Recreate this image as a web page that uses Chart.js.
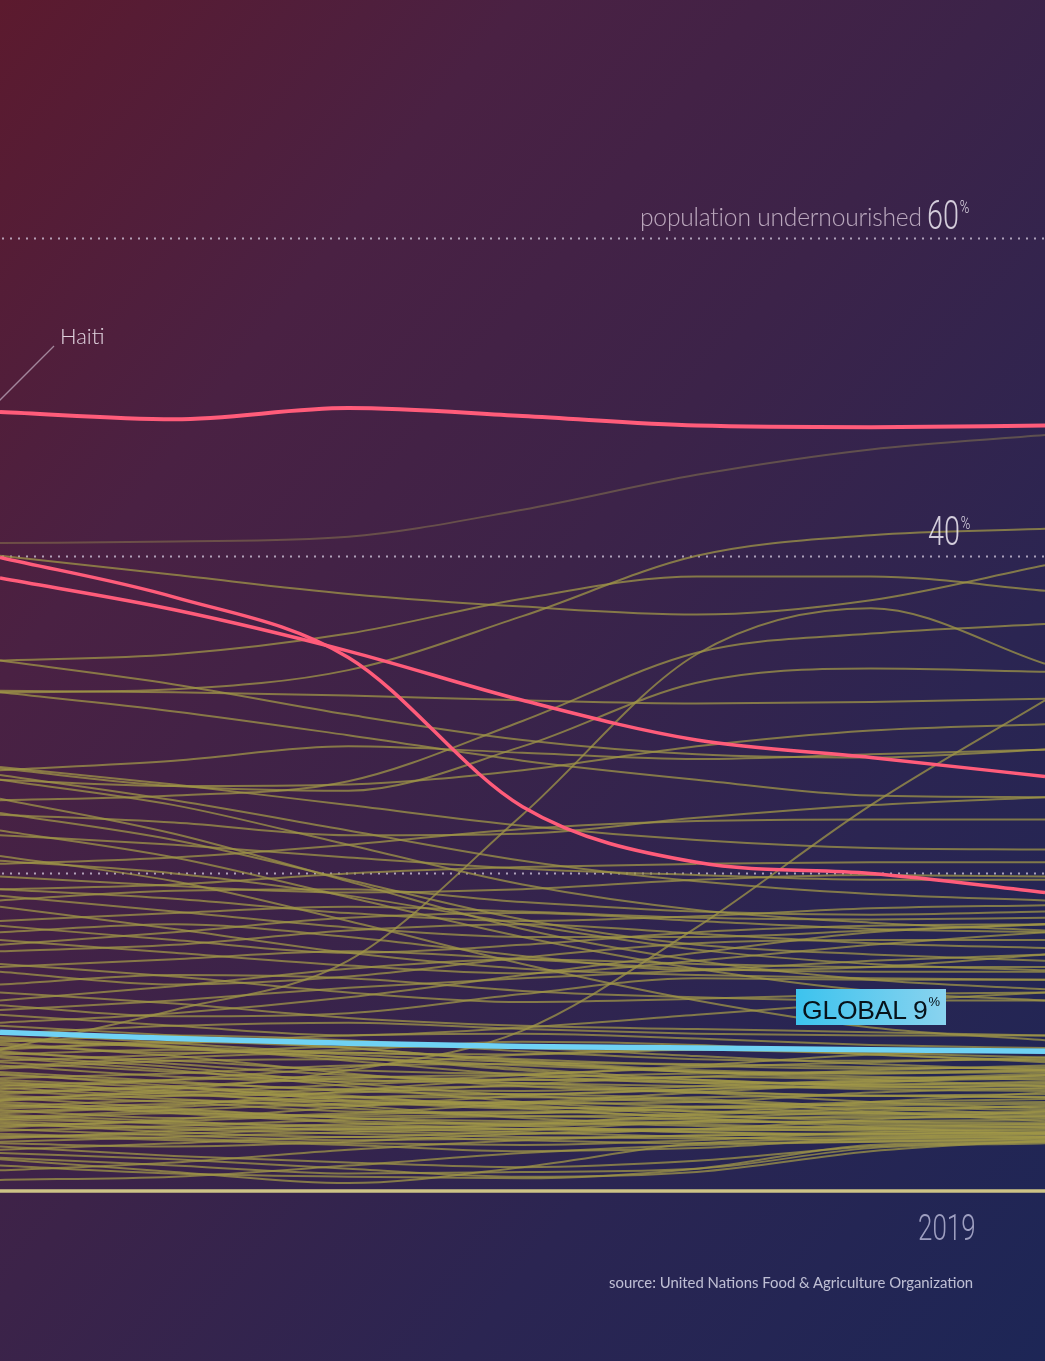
<!DOCTYPE html>
<html>
<head>
<meta charset="utf-8">
<script src="https://cdn.jsdelivr.net/npm/chart.js@4.4.1/dist/chart.umd.min.js"></script>
<style>
  html, body { margin:0; padding:0; }
  body {
    width:1045px; height:1361px; overflow:hidden; position:relative;
    background: linear-gradient(to bottom right, #5c1a2e 0%, #4a2143 25%, #3c2349 48%, #2b2552 72%, #1d2656 100%);
  }
  #wrap { position:absolute; left:0; top:0; width:1045px; height:1361px; }
  .lbl { position:absolute; white-space:nowrap; }
  .cond { font-family: "Roboto", "Liberation Sans Narrow", sans-serif; font-weight:300; transform-origin:left top; }
  #pop { left:640px; top:202px; font-family:"Lato","Open Sans",sans-serif; font-weight:300; font-size:24.6px; color:rgba(235,220,235,0.72); letter-spacing:-0.2px; }
  #p60 { left:927px; top:192px; font-size:40px; color:rgba(240,235,245,0.85); transform:scaleX(0.72); }
  #p40 { left:928px; top:508px; font-size:40px; color:rgba(240,235,245,0.85); transform:scaleX(0.72); }
  .pct { font-size:18px; position:relative; top:-16px; margin-left:1px; }
  #yr { left:918px; top:1207px; font-size:36px; color:rgba(190,190,220,0.8); transform:scaleX(0.72); }
  #src { left:609px; top:1273px; font-family:"Lato","Open Sans",sans-serif; font-size:14.9px; color:rgba(225,225,240,0.82); }
  #haiti { left:60px; top:322px; font-family:"Lato","Open Sans",sans-serif; font-weight:300; font-size:22px; color:rgba(240,230,240,0.9); }
  #glob { left:796px; top:989px; width:150px; height:36px; background:linear-gradient(90deg,#3cc3ee,#8ad3ef); overflow:hidden;
          font-family:"Liberation Sans","Arial",sans-serif; font-size:26.5px; color:#07121a; line-height:29px; padding-top:1px; text-indent:6px; box-sizing:border-box; letter-spacing:-0.2px; }
  #glob sup { font-size:13px; position:relative; top:-3px; letter-spacing:0; margin-left:1px; }
  #lead { position:absolute; left:0; top:0; }
</style>
</head>
<body>
<div id="wrap"><canvas id="c" width="1045" height="1361"></canvas></div>
<svg id="lead" width="1045" height="1361"><line x1="-2" y1="402" x2="54" y2="346" stroke="rgba(230,220,235,0.55)" stroke-width="1.3"/></svg>
<div class="lbl" id="pop">population undernourished</div>
<div class="lbl cond" id="p60">60<span class="pct">%</span></div>
<div class="lbl cond" id="p40">40<span class="pct">%</span></div>
<div class="lbl" id="haiti">Haiti</div>
<div class="lbl" id="glob">GLOBAL 9<sup>%</sup></div>
<div class="lbl cond" id="yr">2019</div>
<div class="lbl" id="src">source: United Nations Food &amp; Agriculture Organization</div>
<script>
// ---- data (percent of population undernourished) ----
const years = ['2001','2004','2007','2010','2013','2016','2019'];
const gridTicks = [20, 40, 60];

const haiti  = [49.05, 48.6, 49.3, 48.8, 48.2, 48.1, 48.2];
const redA   = [39.9, 37.4, 33.6, 24.2, 20.7, 20.0, 18.8];
const redB   = [38.6, 36.6, 34.0, 30.9, 28.4, 27.3, 26.1];
const globalSeries = [10.0, 9.6, 9.3, 9.1, 9.0, 8.9, 8.8];
const fadedCountry = [40.8, 40.9, 41.2, 42.9, 45.1, 46.7, 47.6];
const belowFloor = [0, 0, 0, 0, 0, 0, 0];

const upperCountries = [
  [31.4, 31.6, 32.8, 36.2, 40.0, 41.3, 41.7],
  [40.0, 38.8, 37.6, 36.8, 36.3, 37.2, 39.4],
  [33.4, 33.8, 35.1, 37.3, 38.7, 38.7, 37.8],
  [8.9, 11.4, 14.5, 23.7, 33.8, 36.7, 33.2],
  [5.7, 6.4, 7.6, 10.1, 16.6, 24.3, 30.9],
  [24.6, 24.9, 25.8, 29.6, 33.9, 35.1, 35.7],
  [26.6, 25.5, 25.2, 28.0, 32.0, 32.9, 32.7],
  [31.5, 31.4, 31.2, 30.9, 30.7, 30.8, 31.0],
  [31.4, 30.2, 28.7, 27.1, 25.9, 24.9, 24.8],
  [33.4, 31.9, 30.0, 28.4, 27.5, 27.3, 27.8],
  [26.5, 27.1, 28.0, 27.6, 27.2, 27.5, 27.8],
  [25.9, 25.5, 25.6, 26.5, 28.0, 29.0, 29.4],
  [26.7, 25.6, 24.3, 23.0, 22.1, 21.6, 21.5],
  [26.2, 24.6, 22.7, 20.8, 19.5, 18.7, 18.3],
  [25.9, 24.3, 21.8, 19.3, 17.7, 16.9, 16.4],
  [23.8, 22.1, 19.6, 17.1, 15.5, 14.9, 14.5],
  [24.7, 22.5, 19.5, 16.5, 14.5, 13.3, 12.7],
  [22.7, 21.0, 18.5, 16.0, 14.0, 12.6, 12.0],
  [21.1, 19.5, 17.0, 14.3, 12.0, 10.3, 9.5],
  [20.8, 20.0, 18.6, 16.8, 15.2, 14.3, 13.9],
  [22.4, 21.8, 21.0, 20.3, 19.9, 19.6, 19.6],
  [23.7, 23.2, 22.4, 22.5, 23.5, 24.3, 24.8],
  [20.6, 21.0, 21.8, 22.8, 23.3, 23.4, 23.4],
  [19.0, 19.3, 20.0, 20.4, 20.6, 20.7, 20.7],
  [19.8, 19.2, 18.8, 19.0, 19.6, 19.9, 19.8]
];

const middleCountries = [
  [19.0, 18.4, 17.5, 17.0, 17.3, 17.8, 18.0],
  [18.3, 18.9, 19.0, 18.2, 17.6, 17.4, 17.6],
  [17.9, 16.5, 15.0, 14.0, 13.6, 13.4, 13.3],
  [17.0, 17.5, 17.9, 17.6, 17.2, 17.1, 17.2],
  [16.7, 15.8, 15.0, 15.5, 16.3, 16.7, 16.8],
  [16.3, 16.8, 16.0, 14.8, 13.9, 14.1, 14.9],
  [15.8, 15.0, 14.2, 13.7, 14.5, 15.5, 16.3],
  [15.1, 15.5, 16.4, 16.8, 16.2, 15.6, 15.3],
  [14.3, 13.5, 12.5, 11.9, 12.1, 12.4, 12.5],
  [14.1, 14.6, 15.1, 14.6, 14.0, 13.8, 13.8],
  [13.8, 13.0, 13.5, 14.7, 15.6, 15.8, 15.8],
  [13.0, 13.6, 13.4, 12.6, 12.2, 12.0, 12.0],
  [12.5, 11.8, 10.9, 10.4, 10.2, 10.0, 9.8],
  [12.0, 12.9, 14.0, 14.6, 14.3, 14.1, 14.1],
  [11.7, 11.0, 11.2, 12.4, 13.4, 13.3, 13.3],
  [11.4, 12.0, 12.8, 13.4, 13.9, 14.5, 14.9],
  [11.1, 10.4, 9.8, 10.3, 11.1, 11.9, 12.5],
  [10.6, 11.2, 12.2, 13.6, 15.0, 16.3, 16.8],
  [15.5, 16.3, 17.2, 17.5, 17.0, 16.5, 16.3],
  [18.6, 17.6, 16.6, 16.0, 16.0, 16.4, 16.8]
];

const lowerCountries = [
  [9.6, 9.0, 8.4, 7.9, 7.5, 7.2, 7.0],
  [9.4, 9.8, 9.5, 8.8, 8.3, 8.2, 8.3],
  [9.2, 8.5, 7.4, 6.6, 6.2, 6.0, 5.9],
  [9.0, 9.3, 9.8, 9.9, 9.6, 9.2, 9.0],
  [8.8, 8.0, 7.3, 7.0, 7.2, 7.6, 7.9],
  [8.6, 8.9, 8.4, 7.6, 6.8, 6.4, 6.3],
  [8.4, 7.6, 6.6, 5.6, 5.0, 4.8, 4.9],
  [8.2, 8.6, 9.1, 9.0, 8.5, 8.0, 7.6],
  [7.9, 7.2, 6.9, 7.3, 7.8, 8.1, 8.4],
  [7.7, 8.2, 8.3, 7.7, 7.0, 6.7, 6.8],
  [7.4, 6.6, 5.7, 5.2, 5.3, 5.6, 5.8],
  [7.1, 7.4, 7.9, 8.0, 7.5, 7.1, 7.2],
  [6.9, 6.2, 5.4, 4.6, 4.2, 4.0, 4.1],
  [6.6, 7.0, 7.2, 6.8, 6.3, 6.0, 6.1],
  [6.3, 5.8, 5.4, 5.6, 6.2, 6.8, 7.3],
  [6.1, 6.5, 6.0, 5.2, 4.7, 4.6, 4.7],
  [5.9, 5.2, 4.6, 4.4, 4.6, 5.0, 5.4],
  [5.7, 6.0, 6.4, 6.6, 6.2, 5.6, 5.2],
  [5.5, 4.9, 4.3, 3.9, 3.8, 3.9, 4.0],
  [5.3, 5.7, 5.2, 4.7, 4.9, 5.6, 6.2],
  [5.1, 4.6, 4.9, 5.5, 5.9, 6.0, 5.9],
  [4.9, 5.3, 5.7, 5.4, 4.8, 4.4, 4.3],
  [4.7, 4.2, 3.8, 3.6, 3.9, 4.5, 5.0],
  [4.5, 4.9, 4.6, 4.1, 3.7, 3.6, 3.7],
  [4.3, 3.7, 3.4, 3.8, 4.4, 4.7, 4.6],
  [4.1, 4.4, 4.8, 5.0, 4.6, 4.0, 3.6],
  [3.9, 3.5, 3.2, 3.3, 3.5, 3.6, 3.5],
  [3.3, 3.8, 4.2, 4.3, 4.1, 3.9, 3.8],
  [3.0, 2.8, 3.1, 3.6, 3.9, 3.8, 3.6],
  [2.6, 3.0, 3.4, 3.2, 3.0, 3.1, 3.3],
  [2.1, 1.6, 1.1, 1.2, 1.4, 2.7, 3.0],
  [1.3, 1.8, 2.6, 3.2, 3.5, 3.6, 3.7],
  [0.7, 0.9, 1.6, 2.4, 2.9, 3.1, 3.2],
  [10.0, 9.3, 8.7, 8.6, 8.9, 8.6, 8.1],
  [9.9, 10.4, 10.6, 10.2, 9.9, 9.8, 9.8],
  [10.4, 9.8, 9.0, 8.2, 7.6, 7.4, 7.5],
  [6.4, 7.0, 7.8, 8.6, 8.9, 8.7, 8.4],
  [4.0, 4.5, 5.3, 6.0, 6.4, 6.6, 6.6],
  [8.5, 7.8, 6.8, 6.0, 5.6, 5.4, 5.5],
  [3.5, 3.2, 2.9, 2.5, 2.7, 3.3, 3.4],
  [2.8, 2.2, 1.8, 1.5, 1.9, 2.8, 3.1],
  [7.5, 6.9, 6.3, 6.1, 6.4, 6.9, 7.1],
  [5.0, 5.4, 6.3, 7.1, 7.4, 7.5, 7.6],
  [6.8, 6.3, 5.9, 5.9, 5.7, 5.0, 4.4],
  [9.7, 9.1, 8.2, 7.3, 6.8, 6.9, 7.3],
  [9.3, 8.7, 8.9, 9.4, 9.2, 8.6, 8.2],
  [8.9, 9.4, 9.0, 8.1, 7.5, 7.4, 7.6],
  [8.1, 7.5, 7.0, 6.8, 6.6, 6.5, 6.7],
  [7.8, 8.4, 8.7, 8.3, 7.9, 7.7, 7.8],
  [7.3, 6.8, 6.4, 6.3, 6.6, 7.0, 7.4],
  [7.0, 6.5, 5.9, 5.5, 5.6, 6.2, 6.5],
  [6.7, 6.1, 5.6, 5.3, 5.0, 4.9, 5.0],
  [6.2, 6.6, 7.1, 7.3, 7.0, 6.6, 6.4],
  [6.0, 5.6, 5.0, 4.9, 5.2, 5.5, 5.6],
  [5.8, 6.2, 6.7, 7.0, 6.9, 6.7, 6.9],
  [5.6, 5.1, 4.7, 4.9, 5.3, 5.2, 4.8],
  [5.4, 5.0, 4.4, 4.2, 4.4, 4.3, 4.2],
  [5.2, 5.5, 5.9, 6.1, 5.8, 5.3, 5.1],
  [4.8, 4.4, 4.0, 4.1, 4.3, 4.4, 4.5],
  [4.6, 5.1, 5.5, 5.6, 5.3, 4.9, 4.7],
  [4.4, 4.0, 3.9, 4.2, 4.8, 5.2, 5.3],
  [4.2, 3.9, 3.6, 3.4, 3.3, 3.4, 3.6],
  [3.8, 4.1, 4.5, 4.7, 4.5, 4.2, 4.0],
  [3.6, 3.3, 3.0, 2.9, 3.2, 3.7, 3.9],
  [3.4, 3.6, 3.9, 3.7, 3.4, 3.2, 3.3],
  [2.0, 1.2, 0.5, 1.5, 3.0, 3.3, 3.4],
  [1.6, 1.1, 0.9, 0.8, 1.4, 2.9, 3.1],
  [2.4, 2.0, 1.4, 0.9, 1.2, 2.5, 3.2],
  [8.7, 8.2, 7.6, 7.4, 7.9, 8.6, 8.8],
  [9.5, 9.1, 8.6, 8.1, 8.0, 7.8, 7.7],
  [6.5, 6.0, 6.2, 6.7, 7.2, 7.0, 6.6],
  [4.5, 4.3, 4.1, 3.9, 3.9, 4.1, 4.2],
  [3.1, 3.4, 3.7, 3.9, 3.7, 3.5, 3.4]
];

// ---- styles ----
const OLIVE = 'rgba(160,151,72,0.74)';
const RED = '#ff5c7a';
const CYAN = '#6fd2f4';

function line(data, color, width, extra) {
  return Object.assign({
    data, borderColor: color, borderWidth: width, pointRadius: 0,
    cubicInterpolationMode: 'monotone', fill: false, clip: false
  }, extra || {});
}

const datasets = [];
datasets.push(line(globalSeries, CYAN, 5.5));
datasets.push(line(haiti, RED, 4));
datasets.push(line(redA, RED, 3.5));
datasets.push(line(redB, RED, 3.5));
[...upperCountries, ...middleCountries, ...lowerCountries].forEach(d => datasets.push(line(d, OLIVE, 2)));
datasets.push(line(fadedCountry, 'rgba(150,135,80,0.45)', 2));
datasets.push(line(belowFloor, '#cdc386', 3.5));

const dottedGrid = {
  id: 'dottedGrid',
  beforeDatasetsDraw(chart) {
    const { ctx, chartArea, scales } = chart;
    ctx.save();
    ctx.strokeStyle = 'rgba(225,215,235,0.7)';
    ctx.lineWidth = 2;
    ctx.setLineDash([2, 6]);
    gridTicks.forEach(v => {
      const y = Math.round(scales.y.getPixelForValue(v)) + 0.5;
      ctx.beginPath();
      ctx.moveTo(chartArea.left + 2, y);
      ctx.lineTo(chartArea.right, y);
      ctx.stroke();
    });
    ctx.restore();
  }
};

new Chart(document.getElementById('c'), {
  type: 'line',
  data: { labels: years, datasets },
  options: {
    responsive: false,
    devicePixelRatio: 1,
    animation: false,
    events: [],
    layout: { padding: { left: 0, right: 0, top: 0, bottom: 170 } },
    plugins: { legend: { display: false }, tooltip: { enabled: false } },
    scales: {
      x: { display: false, offset: false },
      y: { display: false, min: 0, max: 75 }
    }
  },
  plugins: [dottedGrid]
});
</script>
</body>
</html>
